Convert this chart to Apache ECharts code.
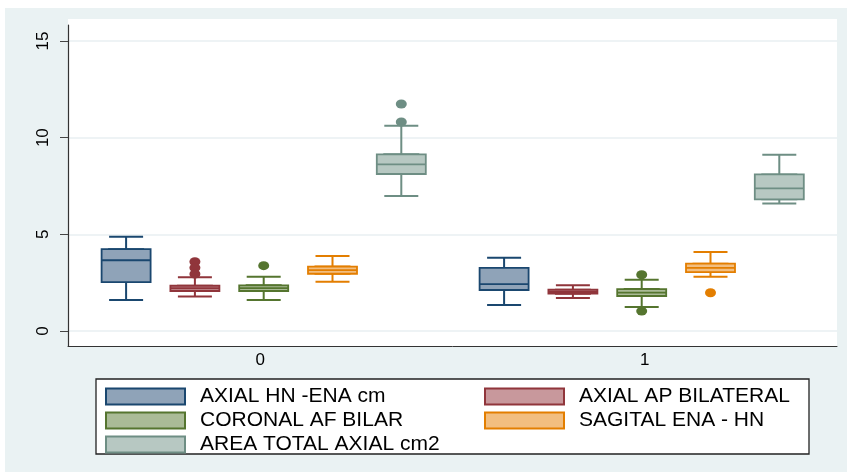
<!DOCTYPE html>
<html><head><meta charset="utf-8">
<script src="https://cdn.jsdelivr.net/npm/echarts@6/dist/echarts.min.js"></script>
<style>html,body{margin:0;padding:0;background:#fff}#c{width:847px;height:472px}</style>
</head><body><div id="c"></div>
<script>
// ---------------- data ----------------
const categories = ['0', '1'];
const seriesNames = ['AXIAL HN -ENA cm', 'AXIAL AP BILATERAL', 'CORONAL AF BILAR', 'SAGITAL ENA - HN', 'AREA TOTAL AXIAL cm2'];
const yTicks = [0, 5, 10, 15];
// [lower whisker, Q1, median, Q3, upper whisker] per category
const axialHN   = [[1.60, 2.53, 3.66, 4.23, 4.88], [1.35, 2.12, 2.42, 3.26, 3.79]];
const axialAP   = [[1.79, 2.07, 2.21, 2.34, 2.78], [1.71, 1.93, 2.03, 2.14, 2.36]];
const coronal   = [[1.60, 2.07, 2.22, 2.36, 2.81], [1.24, 1.81, 1.99, 2.17, 2.65]];
const sagital   = [[2.55, 2.96, 3.15, 3.33, 3.88], [2.81, 3.05, 3.26, 3.48, 4.09]];
const areaTotal = [[6.98, 8.12, 8.62, 9.14, 10.62], [6.60, 6.81, 7.38, 8.10, 9.12]];
// outliers: [category index, value]
const outAxialHN = [];
const outAxialAP = [[0, 3.58], [0, 3.27], [0, 2.95]];
const outCoronal = [[0, 3.38], [1, 2.91], [1, 1.03]];
const outSagital = [[1, 1.98]];
const outArea    = [[0, 11.74], [0, 10.81]];

const boxStats = [axialHN, axialAP, coronal, sagital, areaTotal];
const outliers = [outAxialHN, outAxialAP, outCoronal, outSagital, outArea];
const lineColors = ['#1a476f', '#90353b', '#55752f', '#e37e00', '#6e8e84'];
const fillColors = ['#8fa3b8', '#c8989c', '#aabb97', '#f2be80', '#b7c8c2'];

// ---------------- layout ----------------
const FONT = 'Liberation Sans, Arial, sans-serif';
const plotL = 68, plotW = 769;
const innerTop = 41, innerH = 290;
const groupSpan = 378, boxStep = 68.8, groupCenter0 = 263.7;

const grid = [
  {left: plotL, top: 25, width: plotW, height: 321},
  {left: plotL, top: innerTop, width: plotW, height: innerH}
];
const xAxis = [
  {type: 'category', gridIndex: 0, data: categories,
   axisLine: {show: true, lineStyle: {color: '#333', width: 1}},
   axisTick: {show: false},
   axisLabel: {fontSize: 17, color: '#000', margin: 6, fontFamily: FONT},
   splitLine: {show: false}},
  {type: 'category', gridIndex: 1, data: categories, show: false}
];
const yAxis = [
  {type: 'value', gridIndex: 0, min: 0, max: 1,
   axisLine: {show: true, lineStyle: {color: '#333', width: 1.2}},
   axisTick: {show: false}, axisLabel: {show: false}, splitLine: {show: false}},
  {type: 'value', gridIndex: 1, min: yTicks[0], max: yTicks[yTicks.length - 1], interval: 5,
   axisLine: {show: false},
   axisTick: {show: true, inside: false, length: 8, lineStyle: {color: '#444', width: 1}},
   axisLabel: {rotate: 90, fontSize: 17, color: '#000', margin: 16, fontFamily: FONT},
   splitLine: {show: true, lineStyle: {color: '#e8eff2', width: 1.5}}}
];

const series = [];
for (let i = 0; i < 5; i++) {
  const left = groupCenter0 + (i - 2) * boxStep;
  for (let k = 0; k < 2; k++) {
    grid.push({left: left, top: innerTop, width: groupSpan, height: innerH});
    const gi = grid.length - 1;
    xAxis.push({type: 'category', gridIndex: gi, data: categories, boundaryGap: false, show: false});
    yAxis.push({type: 'value', gridIndex: gi, min: yTicks[0], max: yTicks[yTicks.length - 1], show: false});
  }
  const wIdx = grid.length - 2, bIdx = grid.length - 1;
  const stats = boxStats[i];
  // whiskers with narrower caps
  series.push({
    type: 'boxplot', name: seriesNames[i] + ' whiskers', xAxisIndex: wIdx, yAxisIndex: wIdx,
    boxWidth: [34, 34], z: 2, silent: true,
    itemStyle: {color: fillColors[i], borderColor: lineColors[i], borderWidth: 2},
    data: stats
  });
  // box body (Q1..Q3 with median)
  series.push({
    type: 'boxplot', name: seriesNames[i], xAxisIndex: bIdx, yAxisIndex: bIdx,
    boxWidth: [49, 49], z: 3, silent: true,
    itemStyle: {color: fillColors[i], borderColor: lineColors[i], borderWidth: 1.8},
    data: stats.map(s => [s[1], s[1], s[2], s[3], s[3]])
  });
  series.push({
    type: 'scatter', name: seriesNames[i] + ' outliers', xAxisIndex: bIdx, yAxisIndex: bIdx,
    symbol: 'circle', symbolSize: [11, 9], z: 4, silent: true, clip: false,
    itemStyle: {color: lineColors[i], opacity: 1},
    data: outliers[i]
  });
}

function legendItems(idx) {
  return idx.map(i => ({name: seriesNames[i], icon: 'rect',
    itemStyle: {color: fillColors[i], borderColor: lineColors[i], borderWidth: 2}}));
}
const legendCommon = {
  orient: 'vertical', top: 386, padding: 0, itemWidth: 79, itemHeight: 16, itemGap: 3,
  selectedMode: false,
  textStyle: {fontSize: 21, color: '#000', fontFamily: FONT, lineHeight: 20, padding: [0, 0, 0, 10]}
};

const option = {
  animation: false,
  backgroundColor: '#ffffff',
  graphic: {elements: [
    {type: 'rect', silent: true, z: -10, shape: {x: 5, y: 8, width: 842, height: 464}, style: {fill: '#eaf2f3'}},
    {type: 'rect', silent: true, z: -9, shape: {x: plotL, y: 19, width: plotW, height: 327}, style: {fill: '#ffffff'}},
    {type: 'rect', silent: true, z: -8, shape: {x: 96, y: 379, width: 713, height: 75}, style: {fill: '#ffffff', stroke: '#222', lineWidth: 1.3}}
  ]},
  grid: grid,
  xAxis: xAxis,
  yAxis: yAxis,
  legend: [
    Object.assign({left: 105, data: legendItems([0, 2, 4])}, legendCommon),
    Object.assign({left: 484, data: legendItems([1, 3])}, legendCommon)
  ],
  series: series
};
const chart = echarts.init(document.getElementById('c'), null, {renderer: 'canvas'});
chart.setOption(option);
</script></body></html>
